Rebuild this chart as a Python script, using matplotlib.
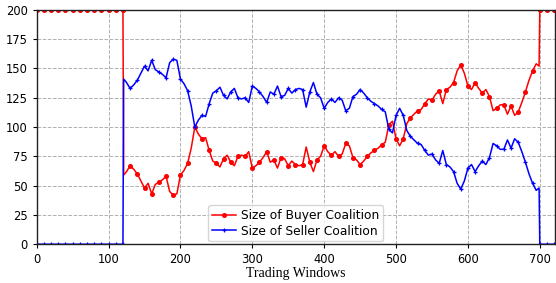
import matplotlib
matplotlib.use("Agg")
import matplotlib.pyplot as plt

# Trading windows (x positions of the samples)
windows = (list(range(0, 121, 5)) + [121] + list(range(125, 700, 5))
           + [699, 700] + list(range(705, 721, 5)))

seller_mid = [141, 138, 133, 136, 140, 146, 152, 148, 157, 149, 147, 145, 142, 155, 158, 157,
              141, 137, 131, 118, 100, 106, 110, 109, 120, 129, 131, 134, 127, 124, 130, 133,
              125, 124, 125, 121, 135, 133, 130, 126, 121, 130, 128, 135, 126, 127, 133, 129,
              132, 133, 132, 117, 130, 138, 128, 125, 116, 121, 124, 121, 125, 123, 114, 116,
              126, 128, 132, 129, 125, 122, 120, 118, 115, 113, 98, 95, 110, 116, 110, 97,
              92, 89, 86, 85, 80, 76, 77, 72, 69, 80, 68, 66, 62, 52, 47, 54,
              65, 68, 62, 67, 71, 68, 74, 86, 84, 81, 81, 89, 82, 90, 87, 79,
              70, 60, 52, 46, 48]
buyer_mid = [59, 62, 67, 64, 60, 54, 48, 52, 43, 51, 53, 55, 58, 45, 42, 43,
             59, 63, 69, 82, 100, 94, 90, 91, 80, 71, 69, 66, 73, 76, 70, 67,
             75, 76, 75, 79, 65, 67, 70, 74, 79, 70, 72, 65, 74, 73, 67, 71,
             68, 67, 68, 83, 70, 62, 72, 75, 84, 79, 76, 79, 75, 77, 86, 84,
             74, 72, 68, 71, 75, 78, 80, 82, 85, 87, 102, 105, 90, 84, 90, 103,
             108, 111, 114, 115, 120, 124, 123, 128, 131, 120, 132, 134, 138, 148, 153, 146,
             135, 132, 138, 133, 129, 132, 126, 114, 116, 119, 119, 111, 118, 110, 113, 121,
             130, 140, 148, 154, 152]

seller = [0] * 25 + seller_mid + [0] * 5
buyer = [200] * 25 + buyer_mid + [200] * 5

buyer_label = "Size of Buyer Coalition"
seller_label = "Size of Seller Coalition"
xlabel = "Trading Windows"

marks = [i for i, w in enumerate(windows) if w % 10 == 0]

fig = plt.figure(figsize=(5.56, 2.83), dpi=100)
ax = fig.add_axes([0.066, 0.137, 0.932, 0.828])

ax.plot(windows, buyer, color="red", lw=1.1, marker="o", ms=2.6,
        markevery=marks, label=buyer_label)
ax.plot(windows, seller, color="blue", lw=1.1, marker="+", ms=3.5, mew=0.9,
        markevery=marks, label=seller_label)

ax.set_xlim(0, 721)
ax.set_ylim(0, 200)
ax.set_xticks([0, 100, 200, 300, 400, 500, 600, 700])
ax.set_yticks([0, 25, 50, 75, 100, 125, 150, 175, 200])
ax.tick_params(labelsize=8.3, length=3, width=0.8)
ax.grid(True, ls="--", color="#b0b0b0", lw=0.7)
for s in ax.spines.values():
    s.set_color("#222222")
    s.set_linewidth(1.0)

ax.set_xlabel(xlabel, family="Liberation Serif", fontsize=10, labelpad=0.5)

ax.legend(loc="lower center", fontsize=8.8, borderaxespad=0.25,
          handlelength=2.0, handletextpad=0.4, borderpad=0.3, labelspacing=0.2,
          fancybox=True, framealpha=0.8)

fig.savefig("out.png", dpi=100)
